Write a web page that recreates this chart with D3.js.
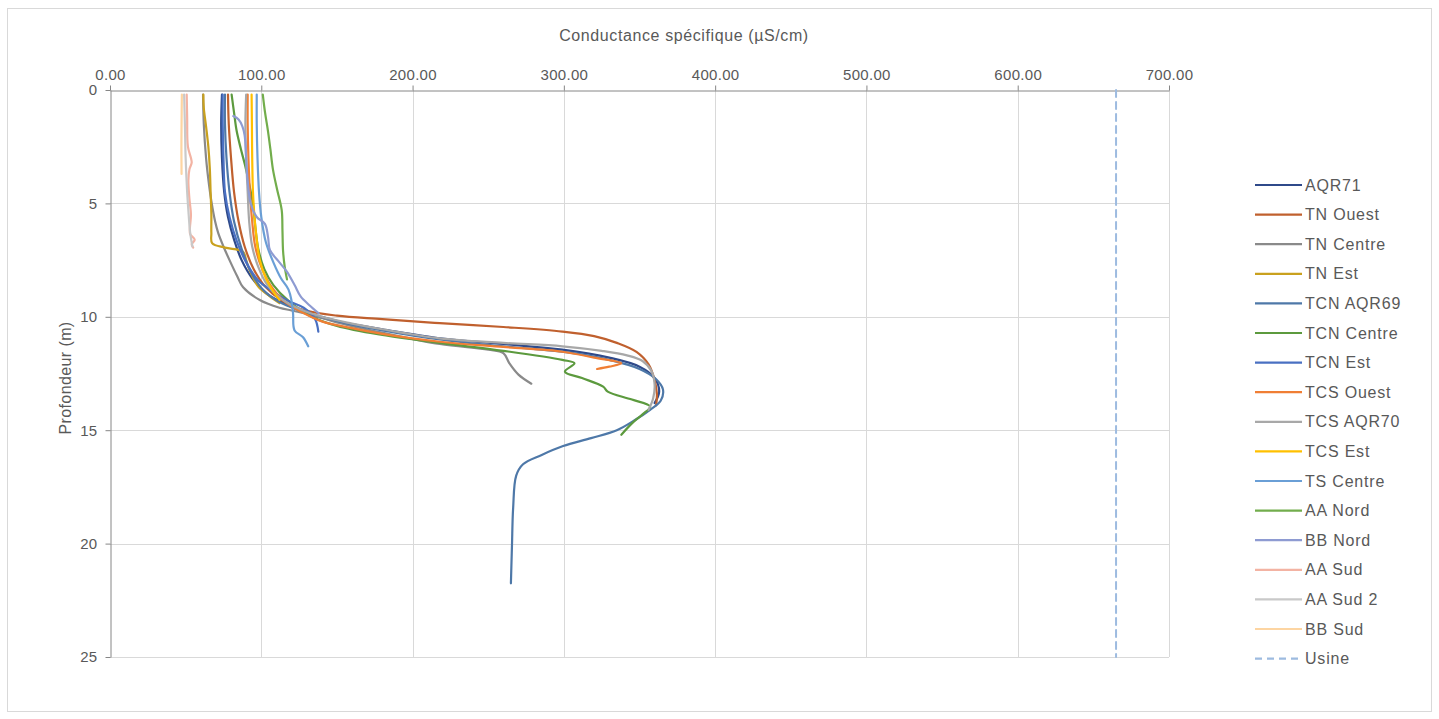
<!DOCTYPE html>
<html>
<head>
<meta charset="utf-8">
<script src="https://cdn.jsdelivr.net/npm/d3@7"></script>
<style>
  html, body { margin: 0; padding: 0; background: #ffffff; }
  svg { display: block; font-family: "Liberation Sans", Arial, sans-serif; }
</style>
</head>
<body>
<svg id="chart" width="1439" height="719"></svg>
<script>
// Conductivity profiles: [conductance (µS/cm), depth (m)]
const aqr71 = [[74,0.2],[73.5,1.5],[74,3],[75.5,4.5],[78,5.6],[82,6.6],[87,7.5],[94,8.3],[104,9.0],[118,9.5],[132,9.9],[150,10.2],[180,10.55],[218,10.95],[260,11.2],[299,11.45],[330,11.8],[350,12.2],[360,12.7],[363,13.3],[360,13.8]];
const tnOuest = [[78,0.2],[78.5,1.5],[80,3],[82,4.5],[85,5.8],[89,6.9],[95,7.9],[103,8.7],[114,9.3],[128,9.7],[150,9.95],[180,10.1],[218,10.28],[260,10.45],[299,10.65],[320,10.85],[335,11.15],[348,11.55],[356,12.1],[360,12.8],[361.5,13.4],[361,13.9]];
const tnCentre = [[61.5,0.2],[62,1.5],[63.5,3],[65.5,4.2],[67,4.9],[69.5,5.8],[71.5,6.3],[75,6.9],[79,7.5],[84,8.2],[88,8.7],[99,9.26],[112,9.6],[120,9.72],[135,9.95],[150,10.25],[180,10.7],[218,11.2],[250,11.45],[260,11.6],[264,12.05],[270,12.55],[278.5,12.95]];
const tnEst = [[61.7,0.2],[62,0.8],[63.5,1.6],[65,2.5],[66,3.5],[66.5,4.5],[67,5.5],[67,6.3],[67.5,6.75],[76,6.95],[88,7.13],[90,7.5],[92,7.9],[98,8.67],[105.7,9.1],[112,9.4]];
const tcnAqr69 = [[76,0.2],[76,1.5],[77,3],[79,4.5],[82,5.8],[87,7],[93,8],[101,8.8],[112,9.35],[125,9.7],[140,10.0],[160,10.35],[180,10.6],[218,11.0],[260,11.3],[300,11.55],[330,11.9],[350,12.3],[361,12.75],[365.5,13.2],[364,13.7],[357,14.1],[347,14.55],[335,15.0],[318,15.35],[299.5,15.7],[285,16.1],[273,16.5],[268.5,17],[266.5,18.4],[265.7,20.1],[265,21.75]];
const tcnCentre = [[80.4,0.2],[82,1],[83.7,1.8],[86.5,2.6],[89.2,3.3],[92.5,4.3],[94.7,5.1],[96,6],[98,7],[102,7.9],[108,8.6],[118,9.3],[132,9.95],[150,10.4],[180,10.8],[218,11.15],[260,11.5],[299,11.9],[307,12.05],[300.7,12.42],[312,12.7],[326,13.08],[329,13.3],[345,13.65],[357,13.96],[352,14.3],[345,14.7],[338,15.2]];
const tcnEst = [[74.5,0.2],[74.5,1.5],[75,3],[76,4.5],[79,5.6],[84,6.7],[90,7.6],[98,8.4],[108,8.9],[118,9.3],[128,9.6],[135.5,10.1],[137.7,10.65]];
const tcsOuest = [[91,0.2],[91,1.5],[91.5,3],[92.5,4.5],[94,5.8],[96,6.9],[100,7.8],[106,8.6],[115,9.3],[127,9.8],[140,10.2],[160,10.5],[180,10.75],[218,11.1],[260,11.33],[299,11.54],[320,11.8],[338,12.05],[330,12.2],[322,12.3]];
const tcsAqr70 = [[90,0.2],[89.5,1.5],[90,3],[91,4.5],[92,5.8],[94,6.9],[98,7.8],[104,8.6],[113,9.2],[125,9.65],[140,10.0],[160,10.3],[180,10.55],[218,10.95],[260,11.15],[299,11.3],[325,11.5],[341.7,11.7],[352,11.95],[358,12.4],[360,13.0],[359,13.6],[356,14.1]];
const tcsEst = [[93.6,0.2],[93.8,1.5],[94,3],[94.5,4.5],[95.5,5.6],[97,6.6],[99,7.5],[103,8.3],[108,8.9],[112,9.25]];
const tsCentre = [[97,0.2],[97,1.5],[97.5,3],[98.5,4.5],[100,5.6],[103,6.7],[108,7.6],[113,8.3],[118,8.8],[120,9.3],[121,9.85],[122,10.6],[127.6,10.9],[131,11.3]];
const aaNord = [[101,0.2],[102.5,1],[104.4,1.8],[106,2.6],[107.7,3.5],[110.5,4.4],[113.5,5.3],[114,6.2],[114.4,7.1],[115.5,7.8],[117,8.35]];
const bbNord = [[81.5,1.15],[85,1.3],[87.5,1.6],[89,2.0],[90,3],[91,4],[93,5],[97,5.6],[102.4,5.9],[104.5,6.5],[105.7,7.05],[112,7.6],[116.8,8.0],[122,8.6],[126,9.1],[132,9.5],[138,9.85]];
const aaSud = [[50.7,0.2],[51,1.2],[51.5,2.5],[53.5,3.0],[54,3.2],[52.5,3.5],[51.8,4.0],[52.5,4.8],[53.5,5.5],[52.8,6.1],[53,6.35],[56,6.6],[54,6.8],[55,6.95]];
const aaSud2 = [[49,0.2],[49.5,1.5],[50,3],[51,4.5],[52,5.5],[53,6.3],[54.5,6.9]];
const bbSud = [[47.5,0.2],[47.3,1.5],[47.2,2.5],[47.3,3.7]];
const usine = [[665,0],[665,25]];

// Legend labels, in display order
const seriesNames = ["AQR71","TN Ouest","TN Centre","TN Est","TCN AQR69","TCN Centre","TCN Est","TCS Ouest","TCS AQR70","TCS Est","TS Centre","AA Nord","BB Nord","AA Sud","AA Sud 2","BB Sud","Usine"];
const seriesData = [aqr71,tnOuest,tnCentre,tnEst,tcnAqr69,tcnCentre,tcnEst,tcsOuest,tcsAqr70,tcsEst,tsCentre,aaNord,bbNord,aaSud,aaSud2,bbSud,usine];
const seriesColors = ["#2F4A8A","#C0602E","#8A8A8A","#C9A11E","#4E78A8","#5C9A3E","#4A70C2","#F07E34","#A8A8A8","#FFC000","#6A9FD6","#72AD4C","#8E9BD2","#F3B3A3","#C9C9C9","#FDD5A2","#9DBBE0"];

// Axis ticks
const xTicks = [0,100,200,300,400,500,600,700];
const yTicks = [0,5,10,15,20,25];

const svg = d3.select("#chart");
const plot = { left: 110, right: 1169, top: 90, bottom: 657 };

const x = d3.scaleLinear().domain([0,700]).range([plot.left, plot.right]);
const y = d3.scaleLinear().domain([0,25]).range([plot.top, plot.bottom]);

// Chart frame
svg.append("rect")
  .attr("x", 7.5).attr("y", 8.5).attr("width", 1424).attr("height", 703)
  .attr("fill", "#ffffff").attr("stroke", "#d9d9d9").attr("stroke-width", 1);

// Gridlines
const grid = svg.append("g");
grid.selectAll("line.vx").data(xTicks.slice(1)).join("line")
  .attr("x1", d => Math.round(x(d)) + 0.5).attr("x2", d => Math.round(x(d)) + 0.5)
  .attr("y1", plot.top).attr("y2", plot.bottom)
  .attr("stroke", "#d9d9d9").attr("stroke-width", 1);
grid.selectAll("line.hy").data(yTicks.slice(1)).join("line")
  .attr("y1", d => Math.round(y(d)) + 0.5).attr("y2", d => Math.round(y(d)) + 0.5)
  .attr("x1", plot.left).attr("x2", plot.right)
  .attr("stroke", "#d9d9d9").attr("stroke-width", 1);

// Top (value) axis
const xAxis = svg.append("g")
  .attr("transform", `translate(0,${plot.top + 0.5})`)
  .call(d3.axisTop(x).tickValues(xTicks).tickFormat(d3.format(".2f")).tickSize(5).tickSizeOuter(0).tickPadding(6));

// Left (depth) axis
const yAxis = svg.append("g")
  .attr("transform", `translate(${plot.left + 0.5},0)`)
  .call(d3.axisLeft(y).tickValues(yTicks).tickFormat(d3.format("d")).tickSize(5).tickSizeOuter(0).tickPadding(8));

[xAxis, yAxis].forEach(a => {
  a.select(".domain").attr("stroke", "#868686");
  a.selectAll(".tick line").attr("stroke", "#868686");
  a.selectAll(".tick text")
    .attr("fill", "#595959")
    .style("font-family", "Liberation Sans, Arial, sans-serif")
    .style("font-size", "15px")
    .style("letter-spacing", "0.3px");
});

// Profiles
const line = d3.line()
  .x(d => x(d[0]))
  .y(d => y(d[1]))
  .curve(d3.curveCatmullRom.alpha(0.5));

const lines = svg.append("g").attr("fill", "none");
seriesData.forEach((data, i) => {
  lines.append("path")
    .datum(data)
    .attr("d", line)
    .attr("stroke", seriesColors[i])
    .attr("stroke-width", seriesNames[i] === "Usine" ? 2 : 2.2)
    .attr("stroke-dasharray", seriesNames[i] === "Usine" ? "7,5" : null)
    .attr("stroke-linejoin", "round")
    .attr("stroke-linecap", "round");
});

// Axis titles
svg.append("text")
  .attr("x", 684).attr("y", 41)
  .attr("text-anchor", "middle")
  .attr("fill", "#595959")
  .style("font-size", "16px")
  .style("letter-spacing", "0.6px")
  .text("Conductance spécifique (µS/cm)");

svg.append("text")
  .attr("transform", "translate(71,378) rotate(-90)")
  .attr("text-anchor", "middle")
  .attr("fill", "#595959")
  .style("font-size", "16px")
  .style("letter-spacing", "0.4px")
  .text("Profondeur (m)");

// Legend
const legend = svg.append("g");
const legendTop = 185, legendStep = 29.6;
seriesNames.forEach((name, i) => {
  const ly = legendTop + i * legendStep;
  legend.append("line")
    .attr("x1", 1255).attr("x2", 1302)
    .attr("y1", ly).attr("y2", ly)
    .attr("stroke", seriesColors[i])
    .attr("stroke-width", 2.2)
    .attr("stroke-dasharray", name === "Usine" ? "7,5" : null);
  legend.append("text")
    .attr("x", 1305).attr("y", ly + 5.5)
    .attr("fill", "#595959")
    .style("font-size", "16px")
    .style("letter-spacing", "0.8px")
    .text(name);
});
</script>
</body>
</html>
